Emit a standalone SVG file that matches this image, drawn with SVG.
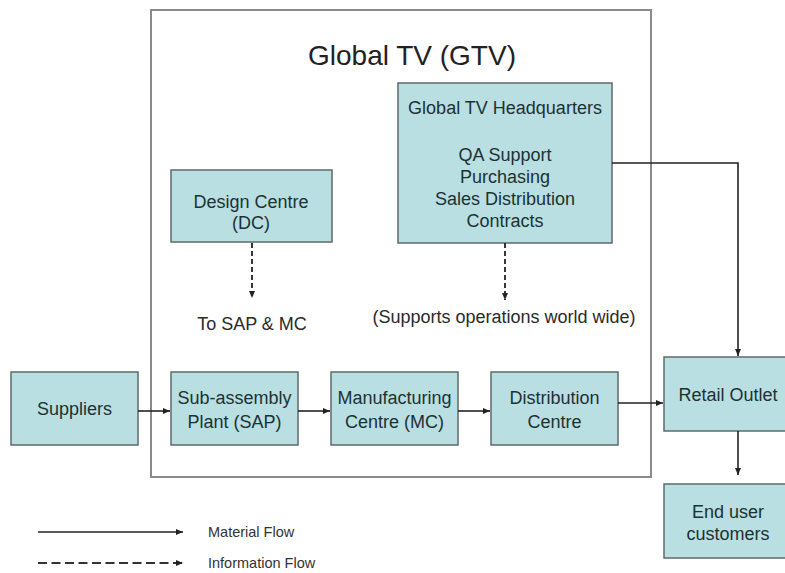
<svg xmlns="http://www.w3.org/2000/svg" width="785" height="573" viewBox="0 0 785 573">
<defs>
<style>
.box{fill:#b9dfe2;stroke:#5f6b6b;stroke-width:1.5}
.t{font-family:"Liberation Sans",Arial,sans-serif;font-size:18px;fill:#1c3133;text-anchor:middle}
.l{font-family:"Liberation Sans",Arial,sans-serif;font-size:18px;fill:#2a2a2a;text-anchor:middle}
.lg{font-family:"Liberation Sans",Arial,sans-serif;font-size:14.5px;fill:#333}
.sol{stroke:#222;stroke-width:1.6;fill:none}
.dash{stroke:#222;stroke-width:1.8;fill:none;stroke-dasharray:5 3}
.dashl{stroke:#333;stroke-width:2;fill:none;stroke-dasharray:9 4.5}
</style>
<marker id="ah" markerWidth="8" markerHeight="8" refX="7" refY="4" orient="auto" markerUnits="userSpaceOnUse">
<path d="M0,1 L7,4 L0,7 Z" fill="#222"/>
</marker>
</defs>
<rect width="785" height="573" fill="#fff"/>
<g id="gtv">
<rect x="151" y="10" width="500" height="467" fill="none" stroke="#8a8a8a" stroke-width="2"/>
<text x="412" y="65" font-family="Liberation Sans, Arial, sans-serif" font-size="28" fill="#222" text-anchor="middle">Global TV (GTV)</text>
</g>
<g id="hq">
<rect class="box" x="398" y="83" width="214" height="160"/>
<text class="t" x="505" y="114">Global TV Headquarters</text>
<text class="t" x="505" y="161">QA Support</text>
<text class="t" x="505" y="183">Purchasing</text>
<text class="t" x="505" y="205">Sales Distribution</text>
<text class="t" x="505" y="227">Contracts</text>
</g>
<g id="dc">
<rect class="box" x="171" y="170" width="161" height="72"/>
<text class="t" x="251" y="208">Design Centre</text>
<text class="t" x="251" y="229">(DC)</text>
</g>
<g id="to-sap-mc"><text class="l" x="252" y="330">To SAP &amp; MC</text></g>
<g id="supports"><text class="l" x="504" y="323">(Supports operations world wide)</text></g>
<g id="suppliers">
<rect class="box" x="11" y="372" width="127" height="73"/>
<text class="t" x="74.5" y="415">Suppliers</text>
</g>
<g id="sap">
<rect class="box" x="171" y="372" width="127" height="73"/>
<text class="t" x="234.5" y="404">Sub-assembly</text>
<text class="t" x="234.5" y="428">Plant (SAP)</text>
</g>
<g id="mc">
<rect class="box" x="331" y="372" width="127" height="73"/>
<text class="t" x="394.5" y="404">Manufacturing</text>
<text class="t" x="394.5" y="428">Centre (MC)</text>
</g>
<g id="dist">
<rect class="box" x="491" y="372" width="127" height="73"/>
<text class="t" x="554.5" y="404">Distribution</text>
<text class="t" x="554.5" y="428">Centre</text>
</g>
<g id="retail">
<rect class="box" x="664" y="357" width="128" height="74"/>
<text class="t" x="728" y="401">Retail Outlet</text>
</g>
<g id="enduser">
<rect class="box" x="664" y="484" width="128" height="74"/>
<text class="t" x="728" y="518">End user</text>
<text class="t" x="728" y="540">customers</text>
</g>
<g id="connectors">
<line class="dash" x1="252" y1="243" x2="252" y2="298" marker-end="url(#ah)"/>
<line class="dash" x1="505" y1="243" x2="505" y2="300" marker-end="url(#ah)"/>
<line class="sol" x1="138" y1="411" x2="170" y2="411" marker-end="url(#ah)"/>
<line class="sol" x1="298" y1="411" x2="330" y2="411" marker-end="url(#ah)"/>
<line class="sol" x1="458" y1="411" x2="490" y2="411" marker-end="url(#ah)"/>
<line class="sol" x1="618" y1="403" x2="663" y2="403" marker-end="url(#ah)"/>
<polyline class="sol" points="612,163 738,163 738,356" marker-end="url(#ah)"/>
<line class="sol" x1="738" y1="431" x2="738" y2="475" marker-end="url(#ah)"/>
</g>
<g id="legend">
<line class="sol" x1="38" y1="532" x2="183" y2="532" marker-end="url(#ah)"/>
<line class="dashl" x1="38" y1="563" x2="183" y2="563" marker-end="url(#ah)"/>
<text class="lg" x="208" y="537">Material Flow</text>
<text class="lg" x="208" y="568">Information Flow</text>
</g>
</svg>
